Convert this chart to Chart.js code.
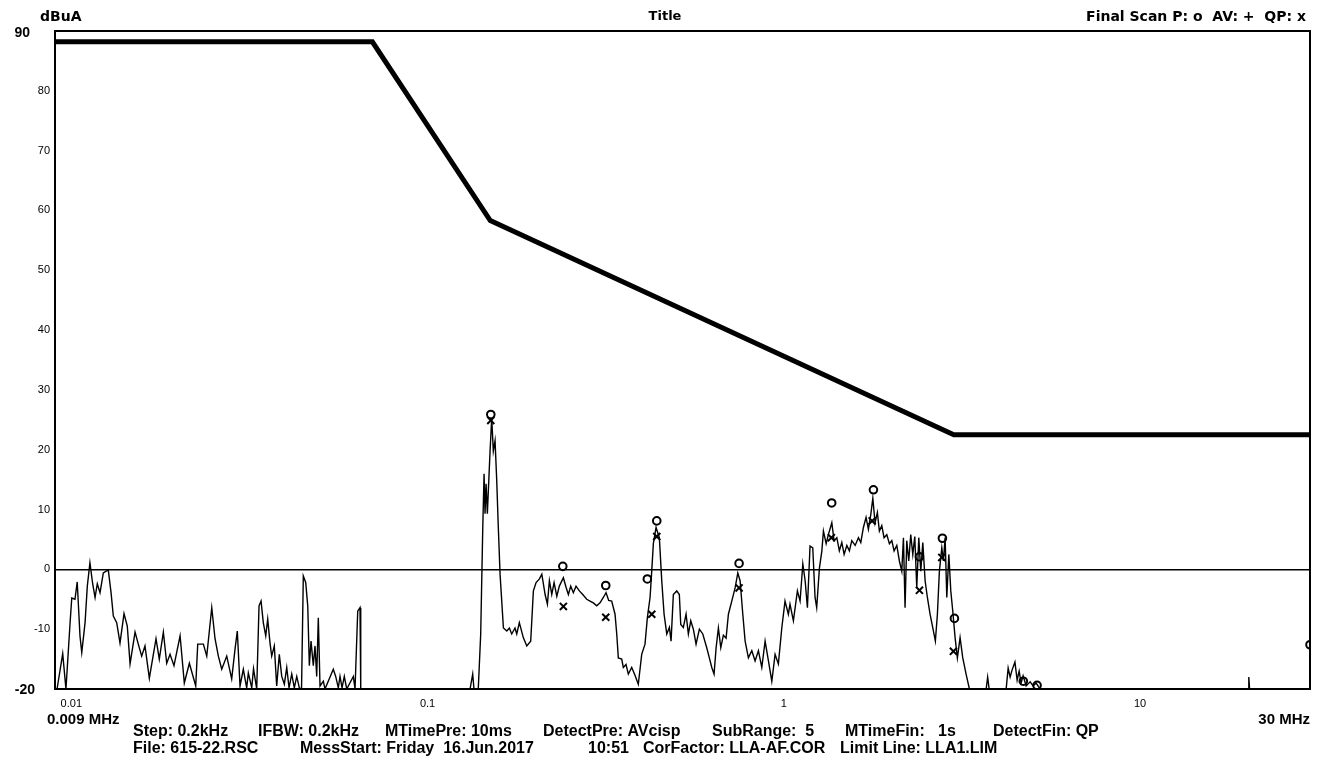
<!DOCTYPE html>
<html>
<head>
<meta charset="utf-8">
<title>Final Scan</title>
<script src="https://cdn.jsdelivr.net/npm/chart.js@4.4.0/dist/chart.umd.min.js"></script>
<style>
    html, body { margin: 0; padding: 0; background: #fff; }
    #scanChart { display: block; }
</style>
</head>
<body>
<canvas id="scanChart" width="1319" height="760"></canvas>
<script>

// limit line (LLA1.LIM)
const limitFreq  = [0.009, 0.07, 0.15, 3, 30];
const limitLevel = [88.2, 88.2, 58.3, 22.5, 22.5];

// pre scan trace, MHz / dBuA
const scanFreq = [
    0.009, 0.00912, 0.00946, 0.00966, 0.00992, 0.01003, 0.01024, 0.01039, 0.01058, 0.0107,
    0.01093, 0.01109, 0.01128, 0.01148, 0.01166, 0.01183, 0.01204, 0.0123, 0.0127, 0.01293,
    0.01312, 0.01341, 0.0137, 0.01406, 0.01436, 0.01462, 0.0151, 0.01542, 0.01576, 0.0161,
    0.01656, 0.01729, 0.01766, 0.01813, 0.01853, 0.01893, 0.01942, 0.0202, 0.02076, 0.02145,
    0.02235, 0.02264, 0.02348, 0.024, 0.02479, 0.02532, 0.02587, 0.02644, 0.02731, 0.0282,
    0.02882, 0.02924, 0.02976, 0.0304, 0.03107, 0.0314, 0.0321, 0.03247, 0.03315, 0.03365,
    0.03409, 0.03459, 0.03514, 0.03559, 0.03612, 0.03652, 0.03714, 0.03772, 0.03836, 0.03897,
    0.03963, 0.04025, 0.04085, 0.04157, 0.04227, 0.04294, 0.04366, 0.04429, 0.0448, 0.0455,
    0.0461, 0.04658, 0.04709, 0.04779, 0.04832, 0.04885, 0.04936, 0.04991, 0.05099, 0.05154,
    0.05438, 0.05523, 0.05617, 0.05679, 0.05754, 0.05839, 0.05931, 0.0619, 0.06258, 0.06368,
    0.06463, 0.06493, 0.1316, 0.1339, 0.135, 0.1388, 0.141, 0.1429, 0.1441, 0.145,
    0.146, 0.1472, 0.1498, 0.1514, 0.153, 0.1547, 0.1564, 0.158, 0.1598, 0.1633,
    0.1669, 0.1697, 0.1723, 0.176, 0.178, 0.181, 0.1857, 0.1899, 0.1948, 0.1982,
    0.2017, 0.2061, 0.2093, 0.2138, 0.217, 0.2198, 0.2232, 0.2266, 0.2306, 0.2344,
    0.2406, 0.2448, 0.2485, 0.2523, 0.2566, 0.2611, 0.2668, 0.2727, 0.2798, 0.2858,
    0.292, 0.2985, 0.3049, 0.3115, 0.317, 0.3225, 0.3288, 0.336, 0.3397, 0.3432,
    0.3508, 0.3544, 0.3607, 0.3661, 0.3742, 0.3822, 0.3905, 0.3992, 0.4078, 0.414,
    0.4213, 0.4254, 0.4304, 0.438, 0.4474, 0.4544, 0.4613, 0.4694, 0.4774, 0.4826,
    0.4898, 0.5006, 0.5091, 0.5138, 0.5224, 0.5317, 0.5397, 0.5481, 0.5574, 0.5672,
    0.5795, 0.5924, 0.6078, 0.6181, 0.6279, 0.6372, 0.6457, 0.6553, 0.6655, 0.6768,
    0.6887, 0.6991, 0.7145, 0.73, 0.7429, 0.754, 0.7673, 0.7789, 0.7955, 0.8133,
    0.8307, 0.8487, 0.8675, 0.8863, 0.9055, 0.9255, 0.9454, 0.9656, 0.9872, 1.008,
    1.03, 1.041, 1.064, 1.092, 1.111, 1.131, 1.148, 1.165, 1.185, 1.206,
    1.224, 1.237, 1.259, 1.279, 1.292, 1.315, 1.334, 1.364, 1.384, 1.409,
    1.432, 1.455, 1.477, 1.503, 1.528, 1.552, 1.586, 1.62, 1.645, 1.673,
    1.702, 1.728, 1.755, 1.778, 1.804, 1.831, 1.855, 1.884, 1.912, 1.946,
    1.979, 2.01, 2.04, 2.076, 2.111, 2.144, 2.167, 2.19, 2.214, 2.243,
    2.272, 2.302, 2.332, 2.362, 2.393, 2.424, 2.456, 2.493, 2.53, 2.574,
    2.62, 2.664, 2.699, 2.734, 2.777, 2.806, 2.837, 2.868, 2.906, 2.943,
    2.981, 3.026, 3.071, 3.125, 3.18, 3.249, 3.319, 3.699, 3.735, 3.771,
    4.209, 4.264, 4.319, 4.375, 4.455, 4.519, 4.578, 4.637, 4.697, 4.789,
    4.915, 5.011, 5.109, 5.243, 20.1, 20.2, 20.3, 30
];
const scanLevel = [
    -20, -20, -14.1, -20, -9, -4.8, -5, -2.1, -11.2, -13.9,
    -8.9, -2.8, 1.1, -2.4, -4.7, -2.4, -3.9, -0.6, -0.1, -3.9,
    -7.8, -8.9, -12.3, -7.4, -9.5, -15.8, -10.5, -12.5, -14.5, -12.8,
    -18.2, -11.6, -15, -10.5, -15.7, -14.2, -16.1, -11.1, -19, -15.7,
    -19.5, -12.5, -12.5, -14.5, -6.4, -11.6, -14.5, -16.7, -14.5, -18.3,
    -13.3, -10.3, -19.5, -16.7, -19.8, -17.3, -19.8, -16.6, -20, -6.1,
    -5.3, -8.9, -11.1, -8.3, -12.3, -14.5, -12.8, -19.5, -14.2, -17.9,
    -19.2, -16.4, -19.8, -17.5, -19.8, -17.9, -19.8, -20, -1.1, -2.2,
    -6.1, -16.1, -12, -16.1, -12.8, -17.9, -8.1, -19.5, -18.7, -20,
    -16.7, -17.9, -19.8, -17.9, -19.8, -17.9, -20, -17.9, -20, -7,
    -6.4, -20, -20, -17.5, -20, -20, -10.8, 7, 16, 9.3,
    14.3, 9.3, 19.8, 25.2, 19.8, 21.5, 14.8, 7, -0.8, -9.8,
    -10.3, -9.8, -10.8, -9.8, -10.8, -8.9, -11.4, -12.8, -12, -3.6,
    -2.2, -1.6, -0.8, -4.2, -5.8, -1.9, -4.2, -2.2, -4.5, -2.8,
    -1.4, -3, -4.2, -2.8, -3.9, -2.8, -3.6, -4.2, -5, -5.3,
    -5.6, -6.1, -5.6, -4.7, -3.9, -5.2, -5.3, -7.5, -10.8, -14.8,
    -15, -16.4, -15.9, -17.5, -16.4, -17.7, -19.2, -14.2, -12.5, -8.1,
    -4.7, -0.8, 4.3, 7, 5.3, -1.9, -7.5, -10.8, -9.7, -12,
    -4.2, -3.6, -4.2, -9.2, -9.7, -7.5, -10.8, -8.6, -10, -12.5,
    -10, -10.8, -13.1, -14.8, -16.4, -17.5, -13.1, -9.8, -13.1, -11,
    -11.5, -7.5, -5.3, -3.1, -0.6, -1.9, -7.5, -12, -14.8, -13.6,
    -15.3, -13.6, -16.4, -12, -15.3, -18.7, -14.2, -15.8, -9.8, -5.3,
    -7.5, -5.8, -8.6, -3.6, -5.3, 0.9, -1.9, -6.4, 3.9, 3.6,
    -4.7, -6.4, 0.2, 3.1, 6.4, 4.3, 5.8, 7.8, 4.8, 5.3,
    3.1, 4.5, 2.5, 4, 3.1, 4.8, 4, 5.3, 4.5, 7,
    8.7, 6.7, 9.2, 11.9, 7.8, 9.5, 6.4, 7.3, 5.3, 5.8,
    4.3, 4.8, 3.1, 4, 1.4, -0.3, 5.3, -6.4, 4.8, 1.4,
    5.8, 2.5, 5.5, -3.1, 5.3, -0.3, 4.5, -1.9, -4.7, -7.5,
    -9.8, -12, -7.5, -0.3, 3.6, 1.4, 5.3, -4.7, 2.5, -3.6,
    -7, -11.4, -14.8, -11.4, -14.8, -17.5, -20, -20, -18, -20,
    -20, -16.5, -18, -16.8, -15.5, -18.5, -17, -19, -17.8, -19.5,
    -18.8, -19.5, -19, -20, -20, -18, -20, -20
];

// final scan: peak (o) and quasi peak (x)
const peakFreq  = [0.1505, 0.2397, 0.3164, 0.414, 0.44, 0.749, 1.363, 1.785, 2.403, 2.788, 3.013, 4.703, 5.14, 30];
const peakLevel = [25.9, 0.5, -2.7, -1.6, 8.1, 1.0, 11.1, 13.3, 2.1, 5.2, -8.2, -18.7, -19.4, -12.6];
const qpFreq  = [0.1505, 0.2406, 0.3164, 0.426, 0.44, 0.749, 1.36, 1.77, 2.403, 2.777, 2.993];
const qpLevel = [24.9, -6.2, -8.0, -7.5, 5.5, -3.1, 5.3, 8.1, -3.5, 2.0, -13.7];

// axis
const xTickValues = [0.01, 0.1, 1, 10];
const yTickValues = [90, 80, 70, 60, 50, 40, 30, 20, 10, 0, -10, -20];

// texts
const unitLabel = 'dBuA';
const chartTitle = 'Title';
const legendText = 'Final Scan P: o  AV: +  QP: x';
const startLabel = '0.009 MHz';
const stopLabel = '30 MHz';
const infoLine1 = ['Step: 0.2kHz', 'IFBW: 0.2kHz', 'MTimePre: 10ms', 'DetectPre: AVcisp', 'SubRange:  5', 'MTimeFin:   1s', 'DetectFin: QP'];
const infoLine2 = ['File: 615-22.RSC', 'MessStart: Friday  16.Jun.2017', '10:51', 'CorFactor: LLA-AF.COR', 'Limit Line: LLA1.LIM'];

function toPoints(xs, ys) {
    return xs.map(function(x, i) { return { x: x, y: ys[i] }; });
}

const plain = "'Liberation Sans', Arial, sans-serif";
const wide = "'DejaVu Sans', 'Liberation Sans', Arial, sans-serif";

// frame and all the loose texts around the plot
const framePlugin = {
    id: 'frameAndTexts',
    afterDraw: function(chart) {
        const ctx = chart.ctx;
        const a = chart.chartArea;
        ctx.save();
        ctx.strokeStyle = '#000';
        ctx.lineWidth = 2;
        ctx.strokeRect(a.left, a.top, a.right - a.left, a.bottom - a.top);

        ctx.fillStyle = '#000';
        ctx.textBaseline = 'middle';

        ctx.font = 'bold 14px ' + wide;
        ctx.textAlign = 'left';
        ctx.fillText(unitLabel, 40, 17);
        ctx.font = 'bold 13px ' + wide;
        ctx.textAlign = 'center';
        ctx.fillText(chartTitle, 665, 17);
        ctx.font = 'bold 14px ' + wide;
        ctx.textAlign = 'right';
        ctx.fillText(legendText, 1306, 17);

        ctx.font = 'bold 14px ' + plain;
        ctx.textAlign = 'right';
        ctx.fillText(String(yTickValues[0]), 30, 33);
        ctx.fillText(String(yTickValues[yTickValues.length - 1]), 35, 690);

        ctx.font = 'bold 15px ' + plain;
        ctx.textAlign = 'left';
        ctx.fillText(startLabel, 47, 720);
        ctx.textAlign = 'right';
        ctx.fillText(stopLabel, 1310, 720);

        ctx.font = 'bold 16px ' + plain;
        ctx.textAlign = 'left';
        const x1 = [133, 258, 385, 543, 712, 845, 993];
        infoLine1.forEach(function(t, i) { ctx.fillText(t, x1[i], 732); });
        const x2 = [133, 300, 588, 643, 840];
        infoLine2.forEach(function(t, i) { ctx.fillText(t, x2[i], 749); });
        ctx.restore();
    }
};

new Chart(document.getElementById('scanChart'), {
    type: 'line',
    data: {
        datasets: [{
            label: 'Limit',
            data: toPoints(limitFreq, limitLevel),
            borderColor: '#000',
            borderWidth: 5,
            borderJoinStyle: 'miter',
            pointRadius: 0,
            tension: 0
        }, {
            label: 'Prescan',
            data: toPoints(scanFreq, scanLevel),
            borderColor: '#000',
            borderWidth: 1.4,
            pointRadius: 0,
            tension: 0
        }, {
            label: 'P',
            data: toPoints(peakFreq, peakLevel),
            showLine: false,
            pointStyle: 'circle',
            pointRadius: 3.8,
            pointBorderWidth: 2,
            pointBorderColor: '#000',
            pointBackgroundColor: 'rgba(0,0,0,0)'
        }, {
            label: 'QP',
            data: toPoints(qpFreq, qpLevel),
            showLine: false,
            pointStyle: 'crossRot',
            pointRadius: 5,
            pointBorderWidth: 2,
            pointBorderColor: '#000'
        }]
    },
    options: {
        responsive: false,
        animation: false,
        events: [],
        layout: {
            padding: { top: 31, right: 9, left: 0, bottom: 41 }
        },
        plugins: {
            legend: { display: false },
            tooltip: { enabled: false }
        },
        scales: {
            x: {
                type: 'logarithmic',
                min: 0.009,
                max: 30,
                afterBuildTicks: function(scale) {
                    scale.ticks = xTickValues.map(function(v) { return { value: v }; });
                },
                afterFit: function(scale) { scale.height = 30; },
                ticks: {
                    autoSkip: false,
                    maxRotation: 0,
                    padding: 8,
                    color: '#000',
                    font: { family: plain, size: 11 },
                    callback: function(value) { return String(value); }
                },
                grid: { display: false, drawTicks: false },
                border: { display: false }
            },
            y: {
                min: -20,
                max: 90,
                afterBuildTicks: function(scale) {
                    scale.ticks = yTickValues.map(function(v) { return { value: v }; });
                },
                afterFit: function(scale) { scale.width = 55; },
                ticks: {
                    padding: 5,
                    color: '#000',
                    font: { family: plain, size: 11 },
                    callback: function(value) {
                        if (value === 90 || value === -20) return '';
                        return String(value);
                    }
                },
                grid: {
                    drawTicks: false,
                    lineWidth: 1.5,
                    color: function(c) {
                        return c.tick && c.tick.value === 0 ? '#000' : 'rgba(0,0,0,0)';
                    }
                },
                border: { display: false }
            }
        }
    },
    plugins: [framePlugin]
});
</script>
</body>
</html>
